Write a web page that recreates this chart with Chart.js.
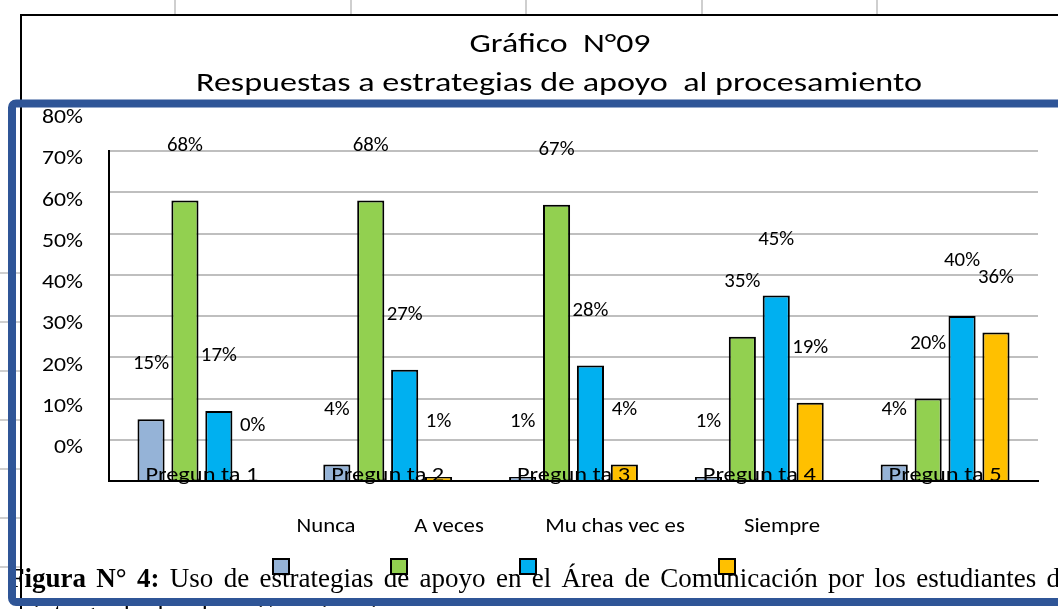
<!DOCTYPE html>
<html>
<head>
<meta charset="utf-8">
<script src="https://cdn.jsdelivr.net/npm/chart.js@4.4.1/dist/chart.umd.min.js"></script>
<style>
  html, body { margin: 0; padding: 0; background: #fff; overflow: hidden; }
  canvas { display: block; }
</style>
</head>
<body>
<canvas id="myChart" width="1058" height="609"></canvas>
<script>
// data (percent)
const categories = ['Pregun ta 1', 'Pregun ta 2', 'Pregun ta 3', 'Pregun ta 4', 'Pregun ta 5'];
const seriesNames = ['Nunca', 'A veces', 'Mu chas vec es', 'Siempre'];
const nunca = [15, 4, 1, 1, 4];
const aVeces = [68, 68, 67, 35, 20];
const muchasVeces = [17, 27, 28, 45, 40];
const siempre = [0, 1, 4, 19, 36];
const yTicks = [0, 10, 20, 30, 40, 50, 60, 70, 80];
const titleLines = ['Gráfico  N°09', 'Respuestas a estrategias de apoyo  al procesamiento'];
const captionBold = 'Figura N° 4:';
const captionRest = 'Uso de estrategias de apoyo en el Área de Comunicación por los estudiantes de';
const captionLine2 = 'quinto grado de educación primaria';

const colors = ['#95B3D7', '#92D050', '#00B0F0', '#FFC000'];
const SANS = 'Carlito, "Noto Sans", sans-serif';
const SERIF = '"Liberation Serif", "DejaVu Serif", serif';

// legend layout (the picture puts the swatches under the caption line)
const legendTextX = [326, 449, 615, 782];
const legendBoxX = [273, 391, 520, 719];

function scaleFor(ctx, font, sample, width) {
  ctx.save();
  ctx.font = font;
  const w = ctx.measureText(sample).width;
  ctx.restore();
  return width / w;
}

function text(ctx, str, x, y, font, align, baseline, sx) {
  ctx.save();
  ctx.font = font;
  ctx.fillStyle = '#000';
  ctx.textAlign = align;
  ctx.textBaseline = baseline;
  ctx.translate(x, y);
  ctx.scale(sx || 1, 1);
  ctx.fillText(str, 0, 0);
  ctx.restore();
}

const decor = {
  id: 'decor',
  beforeDraw(chart) {
    const ctx = chart.ctx;
    const W = chart.width, H = chart.height;
    ctx.save();
    ctx.fillStyle = '#fff';
    ctx.fillRect(0, 0, W, H);

    // spreadsheet cells behind the chart
    ctx.strokeStyle = '#cfcfcf';
    ctx.lineWidth = 2;
    [175, 351, 526, 702, 877].forEach(x => {
      ctx.beginPath(); ctx.moveTo(x, 0); ctx.lineTo(x, 14); ctx.stroke();
    });
    for (let y = 273; y < H; y += 49) {
      ctx.beginPath(); ctx.moveTo(0, y); ctx.lineTo(21, y); ctx.stroke();
    }

    // chart frame
    ctx.strokeStyle = '#000';
    ctx.lineWidth = 2;
    ctx.beginPath();
    ctx.moveTo(21, H); ctx.lineTo(21, 15); ctx.lineTo(W, 15);
    ctx.stroke();
    ctx.restore();

    // title
    const tf = '26px ' + SANS;
    text(ctx, titleLines[0], 560, 52, tf, 'center', 'alphabetic', scaleFor(ctx, tf, titleLines[0], 181));
    text(ctx, titleLines[1], 559, 91, tf, 'center', 'alphabetic', scaleFor(ctx, tf, titleLines[1], 726));

    // caption, justified across the page
    ctx.save();
    const boldWords = captionBold.split(' ');
    const words = [...boldWords, ...captionRest.split(' ')];
    const bf = 'bold 27px ' + SERIF, nf = '27px ' + SERIF;
    const fonts = words.map((w, i) => (i < boldWords.length ? bf : nf));
    const widths = words.map((w, i) => { ctx.font = fonts[i]; return ctx.measureText(w).width; });
    const start = 8, end = 1072;
    const gap = (end - start - widths.reduce((a, b) => a + b, 0)) / (words.length - 1);
    let x = start;
    words.forEach((w, i) => {
      text(ctx, w, x, 587, fonts[i], 'left', 'alphabetic');
      x += widths[i] + gap;
    });
    text(ctx, captionLine2, 6, 622, nf, 'left', 'alphabetic');
    ctx.restore();

    // y tick labels (drawn shifted up, as in the picture)
    const yScale = chart.scales.y;
    const yf = '20px ' + SANS;
    const sx = scaleFor(ctx, yf, '80%', 41);
    yTicks.forEach(v => {
      text(ctx, v + '%', 83, yScale.getPixelForValue(v) - 33, yf, 'right', 'middle', sx);
    });
  },
  afterDraw(chart) {
    const ctx = chart.ctx;
    const lf = '20px ' + SANS;

    // data labels
    const dsx = scaleFor(ctx, lf, '68%', 36);
    chart.data.datasets.forEach((ds, di) => {
      chart.getDatasetMeta(di).data.forEach((bar, i) => {
        text(ctx, ds.data[i] + '%', bar.x, bar.y - 55, lf, 'center', 'middle', dsx);
      });
    });

    // category labels sit on the axis, over the bars
    const xScale = chart.scales.x;
    const cf = '21px ' + SANS;
    const csx = scaleFor(ctx, cf, categories[0], 113);
    categories.forEach((c, i) => {
      text(ctx, c, xScale.getPixelForValue(i), 481, cf, 'center', 'alphabetic', csx);
    });

    // legend
    const gf = '21px ' + SANS;
    const gsx = scaleFor(ctx, gf, seriesNames[0], 59);
    chart.data.datasets.forEach((ds, di) => {
      text(ctx, ds.label, legendTextX[di], 527, gf, 'center', 'middle', gsx);
      ctx.save();
      ctx.fillStyle = ds.backgroundColor;
      ctx.strokeStyle = '#000';
      ctx.lineWidth = 2;
      ctx.fillRect(legendBoxX[di], 559, 16, 15);
      ctx.strokeRect(legendBoxX[di], 559, 16, 15);
      ctx.restore();
    });

    // blue selection rectangle over everything
    ctx.save();
    ctx.strokeStyle = '#2F5597';
    ctx.lineWidth = 8;
    ctx.beginPath();
    ctx.roundRect(12, 103.5, 1100, 498.5, 4);
    ctx.stroke();
    ctx.restore();
  }
};

const ctx = document.getElementById('myChart').getContext('2d');
const myChart = new Chart(ctx, {
  type: 'bar',
  data: {
    labels: categories,
    datasets: [nunca, aVeces, muchasVeces, siempre].map((values, i) => ({
      label: seriesNames[i],
      data: values,
      backgroundColor: colors[i],
      borderColor: '#000',
      borderWidth: 2,
      categoryPercentage: 0.73,
      barPercentage: 0.8,
    })),
  },
  options: {
    responsive: false,
    devicePixelRatio: 1,
    animation: false,
    layout: {
      padding: { left: 109, right: 20, top: 151, bottom: 128 },
    },
    plugins: {
      legend: { display: false },
      tooltip: { enabled: false },
    },
    scales: {
      x: {
        grid: { display: false, drawTicks: false },
        ticks: { display: false },
        border: { display: true, color: '#000', width: 2 },
      },
      y: {
        min: 0,
        max: 80,
        grid: { color: '#bfbfbf', lineWidth: 2, drawTicks: false },
        ticks: { display: false, stepSize: 10 },
        border: { display: true, color: '#000', width: 2 },
      },
    },
  },
  plugins: [decor],
});
</script>
</body>
</html>
